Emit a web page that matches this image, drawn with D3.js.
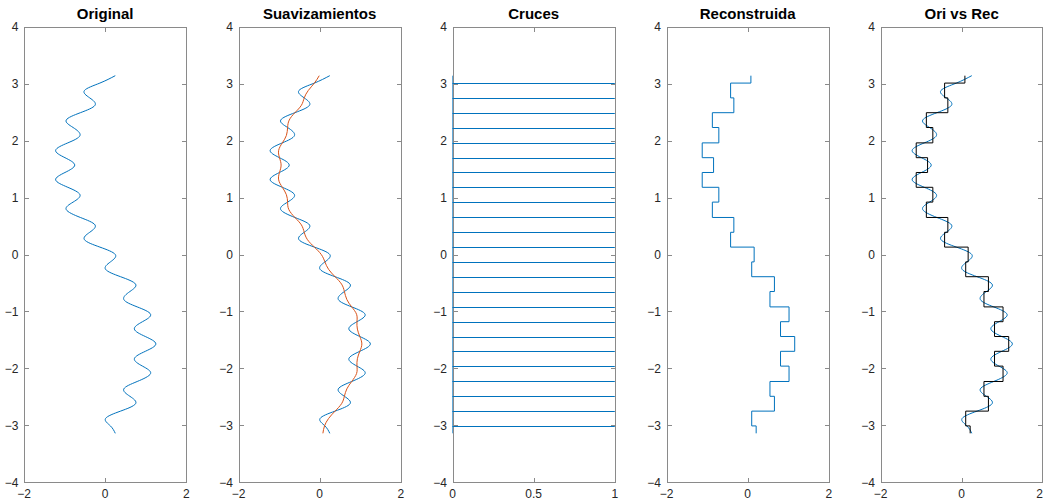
<!DOCTYPE html>
<html><head><meta charset="utf-8">
<script src="https://cdn.jsdelivr.net/npm/d3@7"></script>
<style>
html,body{margin:0;padding:0;background:#fff;}
svg{display:block;}
text{font-family:"Liberation Sans",Arial,Helvetica,sans-serif;}
</style></head>
<body>
<svg id="chart" width="1043" height="501"></svg>
<script>
// ---- data ----
const titles = ["Original", "Suavizamientos", "Cruces", "Reconstruida", "Ori vs Rec"];
const yTickValues = [-4, -3, -2, -1, 0, 1, 2, 3, 4];
const xTickValues = [-2, 0, 2];
const xTickValuesCruces = [0, 0.5, 1];

// sample positions along y (top to bottom)
const ySamples = [3.14, 3.01, 2.88, 2.75, 2.62, 2.49, 2.36, 2.23, 2.09, 1.96, 1.83, 1.70, 1.57,
  1.44, 1.31, 1.18, 1.05, 0.92, 0.79, 0.65, 0.52, 0.39, 0.26, 0.13, 0,
  -0.13, -0.26, -0.39, -0.52, -0.65, -0.79, -0.92, -1.05, -1.18, -1.31, -1.44, -1.57,
  -1.70, -1.83, -1.96, -2.09, -2.23, -2.36, -2.49, -2.62, -2.75, -2.88, -3.01, -3.14];
// original signal x values
const xOriginal = [0.25, -0.13, -0.51, -0.38, -0.25, -0.61, -0.96, -0.79, -0.62, -0.92, -1.22, -0.99, -0.75,
  -0.99, -1.22, -0.92, -0.62, -0.79, -0.96, -0.61, -0.25, -0.38, -0.51, -0.13, 0.25,
  0.13, 0.01, 0.38, 0.75, 0.61, 0.46, 0.79, 1.12, 0.92, 0.72, 0.99, 1.25,
  0.99, 0.72, 0.92, 1.12, 0.79, 0.46, 0.61, 0.75, 0.38, 0.01, 0.13, 0.25];
// smoothed signal x values
const xSmoothed = [-0.01, -0.13, -0.28, -0.38, -0.45, -0.61, -0.75, -0.79, -0.82, -0.92, -1.01, -0.99, -0.95,
  -0.99, -1.01, -0.92, -0.82, -0.79, -0.76, -0.61, -0.45, -0.38, -0.30, -0.13, 0.04,
  0.13, 0.22, 0.38, 0.54, 0.61, 0.67, 0.79, 0.91, 0.92, 0.93, 0.99, 1.04,
  0.99, 0.93, 0.92, 0.91, 0.79, 0.67, 0.61, 0.54, 0.38, 0.22, 0.12, 0.08];
// level crossings (y)
const crossings = [3.01, 2.75, 2.49, 2.23, 1.96, 1.70, 1.44, 1.18, 0.92, 0.65, 0.39, 0.13,
  -0.13, -0.39, -0.65, -0.92, -1.18, -1.44, -1.70, -1.96, -2.23, -2.49, -2.75, -3.01];
const yStart = 3.14, yEnd = -3.14;
// reconstructed levels between crossings (top to bottom)
const xReconstructed = [0.08, -0.42, -0.34, -0.87, -0.71, -1.12, -0.84, -1.12, -0.71, -0.87, -0.34, -0.42,
  0.16, 0.10, 0.66, 0.55, 1.02, 0.81, 1.16, 0.81, 1.02, 0.55, 0.66, 0.10, 0.21];

// ---- layout ----
const svg = d3.select("#chart");
const panelLeft = [24, 238.5, 452.5, 666.5, 880.5];
const panelW = 162.3;
const plotTop = 26.7, plotBottom = 482.3;
const blue = "#0072BD", orange = "#D95319";
const axisColor = "#8a8a8a", textColor = "#262626";
const tickLen = 4.5;

const yScale = d3.scaleLinear().domain([-4, 4]).range([plotBottom, plotTop]);

function drawPanel(i) {
  const x0 = panelLeft[i], x1 = x0 + panelW;
  const isCruces = i === 2;
  const xDomain = isCruces ? [0, 1] : [-2, 2];
  const xTicks = isCruces ? xTickValuesCruces : xTickValues;
  const xScale = d3.scaleLinear().domain(xDomain).range([x0, x1]);
  const g = svg.append("g");
  const px = v => Math.round(v) + 0.5;

  // box
  const bl = px(x0), br = Math.min(px(x1), 1042.5), bt = px(plotTop), bb = px(plotBottom);
  g.append("rect").attr("x", bl).attr("y", bt).attr("width", br - bl).attr("height", bb - bt)
    .attr("fill", "none").attr("stroke", axisColor).attr("stroke-width", 1);

  // y ticks (left & right, inward)
  yTickValues.forEach(v => {
    const y = px(yScale(v));
    g.append("line").attr("x1", bl).attr("x2", bl + tickLen).attr("y1", y).attr("y2", y)
      .attr("stroke", axisColor);
    g.append("line").attr("x1", br).attr("x2", br - tickLen).attr("y1", y).attr("y2", y)
      .attr("stroke", axisColor);
    g.append("text").attr("x", x0 - 5.5).attr("y", yScale(v)).attr("dy", "0.36em")
      .attr("text-anchor", "end").attr("font-size", 12).attr("fill", textColor)
      .text(d3.format("")(v));
  });
  // x ticks (bottom & top, inward)
  xTicks.forEach(v => {
    const x = Math.min(px(xScale(v)), 1042.5);
    g.append("line").attr("x1", x).attr("x2", x).attr("y1", bb).attr("y2", bb - tickLen)
      .attr("stroke", axisColor);
    g.append("line").attr("x1", x).attr("x2", x).attr("y1", bt).attr("y2", bt + tickLen)
      .attr("stroke", axisColor);
    const lx = xScale(v);
    const atEdge = lx + 4 > 1043;
    g.append("text").attr("x", atEdge ? 1043 : lx).attr("y", 497.5)
      .attr("text-anchor", atEdge ? "end" : "middle").attr("font-size", 12).attr("fill", textColor)
      .text(d3.format("")(v));
  });
  // title
  g.append("text").attr("x", (x0 + x1) / 2).attr("y", 19)
    .attr("text-anchor", "middle").attr("font-size", 15).attr("font-weight", "bold")
    .attr("fill", "#000").text(titles[i]);

  const smooth = d3.line().x(d => xScale(d[0])).y(d => yScale(d[1])).curve(d3.curveNatural);
  const linear = d3.line().x(d => xScale(d[0])).y(d => yScale(d[1]));

  const origPts = ySamples.map((y, k) => [xOriginal[k], y]);
  const smoothPts = ySamples.map((y, k) => [xSmoothed[k], y]);
  const bounds = [yStart, ...crossings, yEnd];
  const stepPts = [];
  xReconstructed.forEach((xv, k) => { stepPts.push([xv, bounds[k]]); stepPts.push([xv, bounds[k + 1]]); });

  if (i === 0 || i === 1 || i === 4) {
    g.append("path").attr("d", smooth(origPts)).attr("fill", "none")
      .attr("stroke", blue).attr("stroke-width", 1);
  }
  if (i === 1) {
    g.append("path").attr("d", smooth(smoothPts)).attr("fill", "none")
      .attr("stroke", orange).attr("stroke-width", 1);
  }
  if (i === 2) {
    g.append("path").attr("d", linear([[0, yStart], [0, yEnd]])).attr("fill", "none")
      .attr("stroke", blue).attr("stroke-width", 1).attr("opacity", 0.6);
    crossings.forEach(c => {
      g.append("line").attr("x1", xScale(0)).attr("x2", xScale(1))
        .attr("y1", px(yScale(c))).attr("y2", px(yScale(c)))
        .attr("stroke", blue).attr("stroke-width", 1);
    });
  }
  if (i === 3) {
    g.append("path").attr("d", linear(stepPts)).attr("fill", "none")
      .attr("stroke", blue).attr("stroke-width", 1);
  }
  if (i === 4) {
    g.append("path").attr("d", linear(stepPts)).attr("fill", "none")
      .attr("stroke", "#000").attr("stroke-width", 1);
  }
}

for (let i = 0; i < 5; i++) drawPanel(i);
</script>
</body></html>
